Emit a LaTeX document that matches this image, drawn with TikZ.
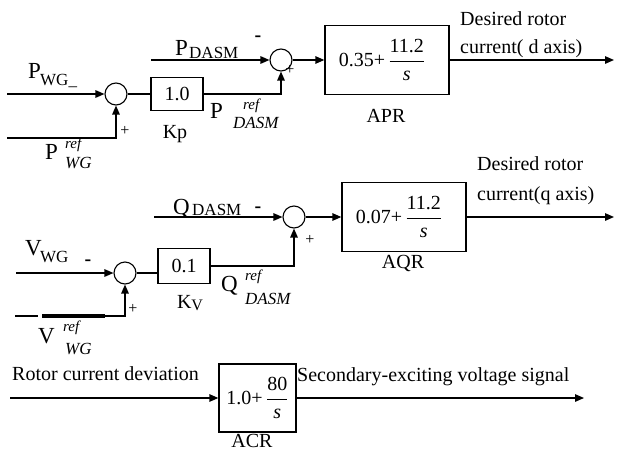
\documentclass[tikz,border=0pt]{standalone}
\usepackage{fix-cm}
\usepackage{amsmath}
\usepackage{fontspec}
\setmainfont{Liberation Serif}
\usetikzlibrary{arrows.meta}
\begin{document}
\begin{tikzpicture}[x=1pt,y=-1pt,
  every node/.style={font=\fontsize{20}{24}\selectfont, inner sep=0pt},
  ln/.style={line width=1.3pt},
  arr/.style={ln,-{Triangle[length=9pt,width=7.5pt]}},
  sumnode/.style={draw,circle,line width=1.1pt,minimum size=22pt,inner sep=0pt},
  blk/.style={draw,line width=1.3pt,inner sep=0pt},
  big/.style={font=\fontsize{23}{23}\selectfont},
  subsc/.style={font=\fontsize{17}{17}\selectfont},
  supit/.style={font=\fontsize{15}{15}\selectfont\itshape},
  subit/.style={font=\fontsize{17}{17}\selectfont\itshape},
  plus/.style={font=\fontsize{16}{16}\selectfont},
  minus/.style={font=\fontsize{20}{20}\selectfont\bfseries},
]
\useasboundingbox (0,0) rectangle (617,450);

% ---------- section 1 : APR ----------
\node[sumnode] (c1) at (116,94) {};
\node[blk, minimum width=52pt, minimum height=33pt] (kp) at (177,94) {1.0};
\node[sumnode] (c2) at (281,60) {};
\node[blk, minimum width=124pt, minimum height=69pt] (apr) at (387,60)
  {0.35+\,$\dfrac{\mbox{11.2}}{\mbox{\itshape s}}$\hspace*{10pt}};

\coordinate (pwgin) at (7,94);
\coordinate (pwgref) at (7,138);
\coordinate (pdin) at (151,60);
\coordinate (out1) at (614,60);

\draw[arr] (pwgin) -- (c1);
\draw[arr] (pwgref) -| (c1.south);
\draw[ln] (c1) -- (kp);
\draw[arr] (kp.east) -| (c2.south);
\draw[arr] (pdin) -- (c2);
\draw[arr] (c2) -- (apr);
\draw[arr] (apr) -- (out1);

\node[big, anchor=base west] (pwgP) at (28,78) {P};
\node[subsc, anchor=base west] (pwgS) at (40,85) {WG\_};
\node[big, anchor=base west] (pwrP) at (45,159) {P};
\node[supit, anchor=base west] (pwrR) at (65,148) {ref};
\node[subit, anchor=base west] (pwrS) at (65,168) {WG};
\node[plus] (s1) at (125,131) {+};
\node[anchor=base] (kpl) at (175,138) {Kp};

\node[big, anchor=base west] (pdP) at (175,55) {P};
\node[subsc, anchor=base west] (pdS) at (189,58) {DASM};
\node[minus] (m2) at (258,39) {-};
\node[plus] (s2) at (290,70) {+};
\node[big, anchor=base west] (pdrP) at (210,118) {P};
\node[supit, anchor=base west] (pdrR) at (243,109) {ref};
\node[subit, anchor=base west] (pdrS) at (233,128) {DASM};
\node[anchor=base] (aprl) at (386,122) {APR};
\node[anchor=base west] (d1a) at (460,25) {Desired rotor};
\node[anchor=base west] (d1b) at (460,53) {current( d axis)};

% ---------- section 2 : AQR ----------
\node[sumnode] (c3) at (294,217) {};
\node[blk, minimum width=124pt, minimum height=69pt] (aqr) at (404,217)
  {0.07+\,$\dfrac{\mbox{11.2}}{\mbox{\itshape s}}$\hspace*{10pt}};
\node[sumnode] (c4) at (125,273) {};
\node[blk, minimum width=52pt, minimum height=35pt] (kv) at (184,266) {0.1};

\coordinate (qdin) at (154,217);
\coordinate (out2) at (614,217);
\coordinate (vwgin) at (16,273);
\coordinate (vr0) at (15,316);
\coordinate (vr1) at (38,316);
\coordinate (vr2) at (42,316);
\coordinate (vr3) at (105,316);

\draw[arr] (qdin) -- (c3);
\draw[arr] (c3) -- (aqr);
\draw[arr] (aqr) -- (out2);
\draw[arr] (vwgin) -- (c4);
\draw[ln] (c4) -- (c4 -| kv.west);
\draw[arr] (kv.east) -| (c3.south);
\draw[ln] (vr0) -- (vr1);
\draw[line width=3.5pt] (vr2) -- (vr3);
\draw[arr] (vr3) -| (c4.south);

\node[big, anchor=base west] (qdP) at (173,214) {Q};
\node[subsc, anchor=base west] (qdS) at (192,215) {DASM};
\node[minus] (m3) at (258,210) {-};
\node[plus] (s3) at (310,240) {+};
\node[big, anchor=base west] (vwgV) at (25,255) {V};
\node[subsc, anchor=base west] (vwgS) at (40,262) {WG};
\node[minus] (m4) at (88,263) {-};
\node[plus] (s4) at (133,309) {+};
\node[anchor=base] (kvl) at (190,308) {K\raisebox{-2pt}{\fontsize{16}{16}\selectfont V}};
\node[big, anchor=base west] (qdrQ) at (221,291) {Q};
\node[supit, anchor=base west] (qdrR) at (245,280) {ref};
\node[subit, anchor=base west] (qdrS) at (245,304) {DASM};
\node[big, anchor=base west] (vwrV) at (38,343) {V};
\node[supit, anchor=base west] (vwrR) at (63,331) {ref};
\node[subit, anchor=base west] (vwrS) at (65,354) {WG};
\node[anchor=base] (aqrl) at (403,268) {AQR};
\node[anchor=base west] (d2a) at (477,170) {Desired rotor};
\node[anchor=base west] (d2b) at (477,200) {current(q axis)};

% ---------- section 3 : ACR ----------
\node[blk, minimum width=77pt, minimum height=68pt] (acr) at (257.5,398)
  {1.0+\,$\dfrac{\mbox{80}}{\mbox{\itshape s}}$};
\coordinate (rcin) at (10,398);
\coordinate (out3) at (584,398);
\draw[arr] (rcin) -- (acr);
\draw[arr] (acr) -- (out3);
\node[anchor=base west] (rcd) at (12,380) {Rotor current deviation};
\node[anchor=base west] (sev) at (297,381) {Secondary-exciting voltage signal};
\node[anchor=base] (acrl) at (252,447) {ACR};
\end{tikzpicture}
\end{document}
